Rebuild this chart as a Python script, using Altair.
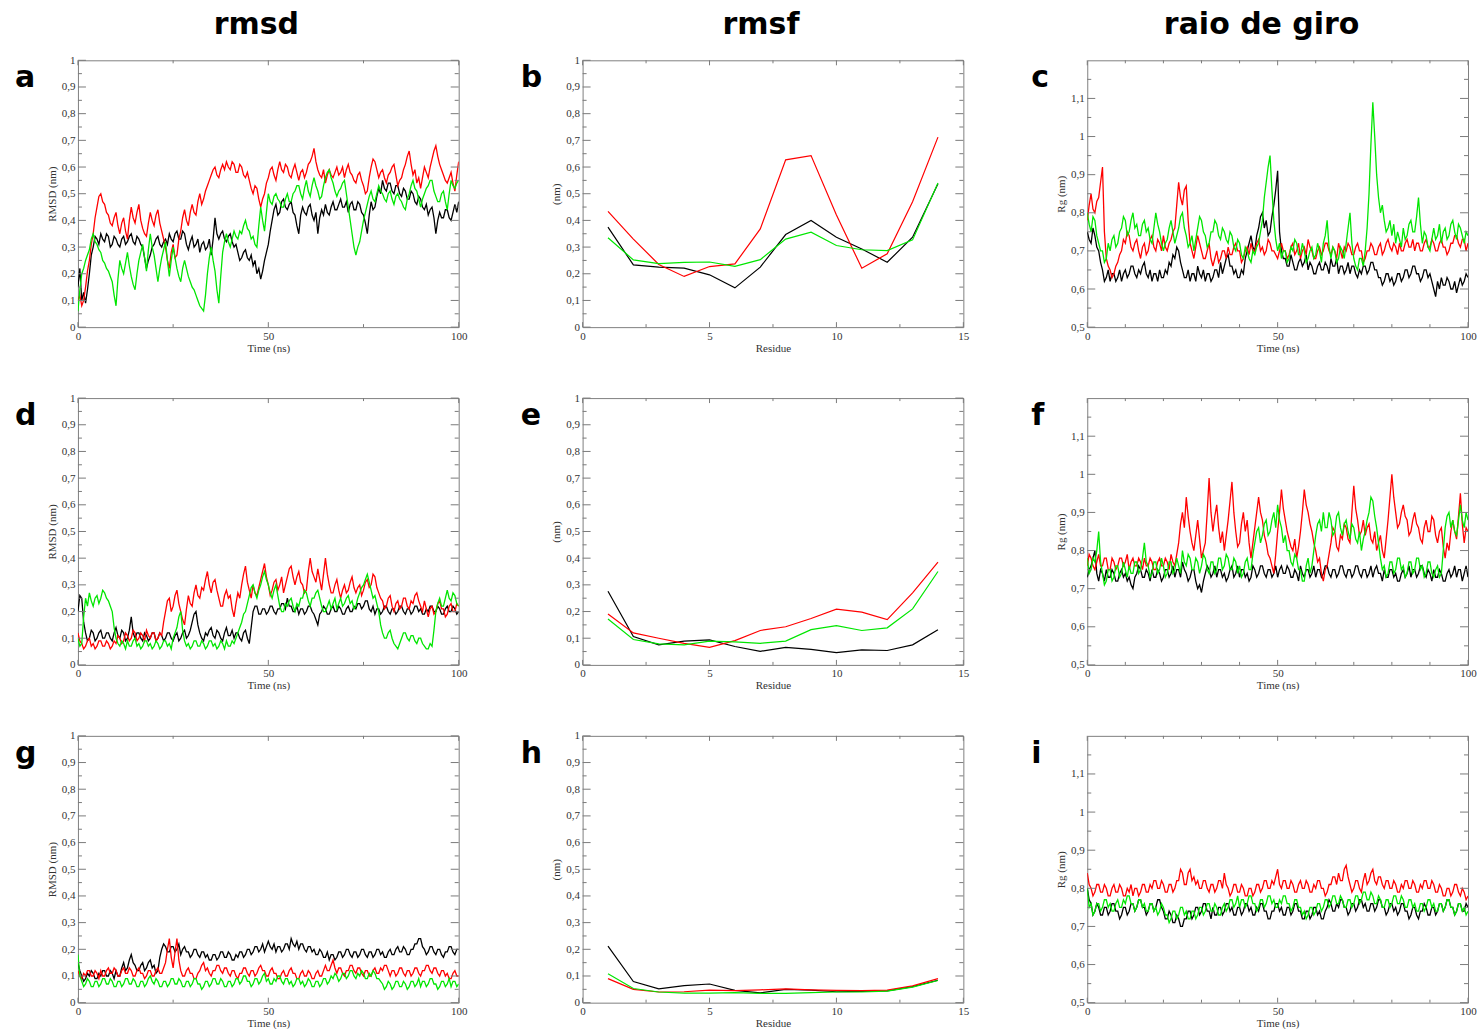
import altair as alt
import pandas as pd

# ---------------- data ----------------
TIME_NS = [i * 0.5 for i in range(201)]   # 0 .. 100 ns, frames every 0.5 ns
RESIDUES = list(range(1, 15))

COLUMN_TITLES = ["rmsd", "rmsf", "raio de giro"]
PANEL_LETTERS = [["a", "b", "c"], ["d", "e", "f"], ["g", "h", "i"]]

# tick values
TIME_LABELS = [0, 50, 100]
TIME_MINOR_RMSD = [25, 75]
TIME_MINOR_RG = [10, 20, 30, 40, 60, 70, 80, 90]
RES_LABELS = [0, 5, 10, 15]
RES_MINOR = [2.5, 7.5, 12.5]
NM_LABELS = [0, 0.1, 0.2, 0.3, 0.4, 0.5, 0.6, 0.7, 0.8, 0.9, 1.0]
NM_MINOR = [0.05, 0.15, 0.25, 0.35, 0.45, 0.55, 0.65, 0.75, 0.85, 0.95]
RG_LABELS = [0.5, 0.6, 0.7, 0.8, 0.9, 1.0, 1.1]
RG_MINOR = [0.55, 0.65, 0.75, 0.85, 0.95, 1.05, 1.15]

# panel a - RMSD (nm)
A_BLACK = [0.15,0.22, 0.10,0.13, 0.09,0.14, 0.20,0.27, 0.30,0.34, 0.33,0.31, 0.35,0.33, 0.32,0.35, 0.34,0.30, 0.31,0.34,
           0.33,0.31, 0.30,0.33, 0.34,0.31, 0.32,0.34, 0.35,0.32, 0.31,0.34, 0.33,0.31, 0.30,0.26, 0.22,0.25, 0.27,0.30,
           0.31,0.33, 0.34,0.31, 0.30,0.32, 0.33,0.31, 0.35,0.33, 0.32,0.35, 0.36,0.33, 0.33,0.36, 0.35,0.31, 0.29,0.32,
           0.34,0.30, 0.31,0.33, 0.28,0.31, 0.32,0.29, 0.30,0.33, 0.27,0.33, 0.41,0.35, 0.33,0.35, 0.36,0.33, 0.32,0.34,
           0.35,0.32, 0.30,0.31, 0.28,0.25, 0.26,0.28, 0.29,0.26, 0.25,0.27, 0.23,0.25, 0.20,0.22, 0.18,0.21, 0.25,0.28,
           0.31,0.36, 0.40,0.44, 0.46,0.42, 0.43,0.47, 0.48,0.45, 0.44,0.46, 0.47,0.43, 0.42,0.38, 0.35,0.42, 0.45,0.43,
           0.42,0.45, 0.46,0.42, 0.40,0.43, 0.35,0.41, 0.44,0.42, 0.46,0.43, 0.42,0.45, 0.47,0.44, 0.44,0.46, 0.48,0.45,
           0.45,0.47, 0.43,0.46, 0.47,0.44, 0.44,0.47, 0.46,0.43, 0.42,0.39, 0.35,0.42, 0.47,0.44, 0.45,0.49, 0.52,0.50,
           0.55,0.52, 0.51,0.54, 0.54,0.51, 0.50,0.53, 0.53,0.50, 0.49,0.52, 0.51,0.48, 0.48,0.51, 0.50,0.47, 0.46,0.49,
           0.48,0.45, 0.44,0.46, 0.42,0.44, 0.45,0.41, 0.35,0.40, 0.43,0.41, 0.41,0.44, 0.44,0.41, 0.40,0.43, 0.46,0.43,
           0.47]
A_RED = [0.10,0.12, 0.08,0.10, 0.15,0.21, 0.25,0.31, 0.35,0.41, 0.45,0.49, 0.50,0.47, 0.46,0.43, 0.42,0.39, 0.38,0.41,
         0.43,0.38, 0.35,0.39, 0.41,0.36, 0.33,0.40, 0.45,0.41, 0.39,0.43, 0.46,0.40, 0.37,0.35, 0.34,0.39, 0.43,0.40,
         0.38,0.42, 0.44,0.39, 0.36,0.33, 0.30,0.25, 0.22,0.28, 0.31,0.26, 0.27,0.33, 0.36,0.41, 0.44,0.40, 0.38,0.43,
         0.46,0.43, 0.42,0.47, 0.50,0.46, 0.48,0.51, 0.53,0.55, 0.57,0.59, 0.60,0.57, 0.56,0.59, 0.61,0.59, 0.62,0.60,
         0.59,0.62, 0.61,0.58, 0.58,0.61, 0.60,0.57, 0.56,0.58, 0.55,0.52, 0.50,0.53, 0.52,0.48, 0.45,0.48, 0.50,0.54,
         0.56,0.59, 0.60,0.57, 0.55,0.59, 0.62,0.59, 0.58,0.61, 0.60,0.57, 0.56,0.59, 0.61,0.58, 0.55,0.58, 0.59,0.56,
         0.58,0.61, 0.62,0.64, 0.67,0.62, 0.59,0.57, 0.56,0.59, 0.54,0.57, 0.59,0.57, 0.56,0.58, 0.60,0.57, 0.58,0.60,
         0.56,0.59, 0.61,0.58, 0.57,0.55, 0.54,0.57, 0.58,0.55, 0.53,0.50, 0.51,0.56, 0.60,0.63, 0.62,0.59, 0.56,0.58,
         0.59,0.56, 0.54,0.57, 0.58,0.60, 0.61,0.57, 0.53,0.55, 0.56,0.59, 0.61,0.64, 0.66,0.61, 0.57,0.59, 0.54,0.56,
         0.52,0.56, 0.60,0.58, 0.56,0.60, 0.63,0.66, 0.68,0.64, 0.61,0.59, 0.57,0.55, 0.54,0.56, 0.58,0.54, 0.51,0.57,
         0.62]
A_GREEN = [0.06,0.14, 0.20,0.22, 0.25,0.27, 0.29,0.33, 0.35,0.32, 0.31,0.29, 0.28,0.25, 0.24,0.22, 0.21,0.19, 0.17,0.12,
           0.08,0.18, 0.25,0.22, 0.20,0.24, 0.28,0.23, 0.19,0.16, 0.14,0.20, 0.25,0.28, 0.31,0.26, 0.21,0.29, 0.35,0.30,
           0.27,0.22, 0.17,0.22, 0.26,0.29, 0.32,0.25, 0.19,0.25, 0.30,0.26, 0.22,0.19, 0.17,0.22, 0.25,0.22, 0.19,0.17,
           0.15,0.14, 0.12,0.10, 0.08,0.07, 0.06,0.12, 0.20,0.26, 0.30,0.25, 0.21,0.14, 0.09,0.19, 0.28,0.32, 0.35,0.32,
           0.30,0.33, 0.36,0.34, 0.33,0.36, 0.35,0.38, 0.40,0.37, 0.36,0.33, 0.34,0.31, 0.30,0.38, 0.45,0.40, 0.36,0.43,
           0.50,0.47, 0.46,0.49, 0.50,0.48, 0.47,0.45, 0.45,0.48, 0.50,0.47, 0.47,0.50, 0.51,0.53, 0.53,0.50, 0.48,0.52,
           0.55,0.51, 0.49,0.53, 0.56,0.53, 0.51,0.48, 0.49,0.53, 0.56,0.58, 0.59,0.56, 0.54,0.51, 0.49,0.51, 0.52,0.54,
           0.55,0.50, 0.45,0.40, 0.35,0.30, 0.27,0.30, 0.32,0.36, 0.40,0.43, 0.46,0.49, 0.51,0.48, 0.47,0.50, 0.53,0.51,
           0.50,0.48, 0.47,0.50, 0.51,0.48, 0.46,0.49, 0.50,0.48, 0.47,0.45, 0.44,0.48, 0.50,0.53, 0.55,0.52, 0.51,0.48,
           0.45,0.48, 0.50,0.52, 0.53,0.55, 0.55,0.51, 0.49,0.47, 0.47,0.50, 0.51,0.47, 0.44,0.50, 0.55,0.53, 0.52,0.54,
           0.55]

# panel b - RMSF (nm) per residue
B_BLACK = [0.375, 0.233, 0.225, 0.221, 0.196, 0.147, 0.225, 0.347, 0.400, 0.337, 0.293, 0.243, 0.337, 0.537]
B_RED = [0.434, 0.330, 0.235, 0.190, 0.227, 0.237, 0.368, 0.627, 0.643, 0.420, 0.221, 0.275, 0.470, 0.712]
B_GREEN = [0.335, 0.252, 0.238, 0.243, 0.244, 0.228, 0.253, 0.330, 0.356, 0.306, 0.290, 0.287, 0.327, 0.540]

# panel c - Rg (nm)
C_BLACK = [0.75,0.73, 0.72,0.76, 0.74,0.71, 0.70,0.67, 0.65,0.62, 0.63,0.65, 0.62,0.64, 0.64,0.62, 0.63,0.65, 0.62,0.64,
           0.65,0.63, 0.64,0.66, 0.66,0.64, 0.63,0.65, 0.64,0.66, 0.67,0.64, 0.63,0.65, 0.62,0.64, 0.64,0.62, 0.65,0.63,
           0.63,0.65, 0.64,0.67, 0.66,0.69, 0.68,0.71, 0.70,0.67, 0.65,0.63, 0.63,0.65, 0.62,0.64, 0.64,0.62, 0.66,0.64,
           0.63,0.65, 0.62,0.64, 0.64,0.62, 0.63,0.65, 0.65,0.63, 0.67,0.64, 0.66,0.68, 0.69,0.66, 0.66,0.64, 0.65,0.63,
           0.63,0.65, 0.64,0.68, 0.70,0.72, 0.74,0.71, 0.70,0.74, 0.76,0.79, 0.80,0.76, 0.78,0.74, 0.75,0.79, 0.82,0.86,
           0.91,0.75, 0.70,0.68, 0.68,0.66, 0.66,0.69, 0.67,0.65, 0.65,0.67, 0.68,0.66, 0.67,0.69, 0.65,0.67, 0.66,0.64,
           0.64,0.66, 0.67,0.65, 0.65,0.67, 0.66,0.64, 0.68,0.66, 0.66,0.68, 0.64,0.66, 0.66,0.64, 0.65,0.67, 0.64,0.66,
           0.66,0.64, 0.63,0.65, 0.64,0.66, 0.66,0.64, 0.65,0.67, 0.67,0.65, 0.65,0.63, 0.63,0.61, 0.62,0.64, 0.64,0.62,
           0.63,0.61, 0.62,0.64, 0.64,0.62, 0.63,0.65, 0.65,0.63, 0.64,0.66, 0.66,0.64, 0.64,0.62, 0.63,0.65, 0.65,0.63,
           0.64,0.62, 0.60,0.58, 0.62,0.60, 0.63,0.61, 0.61,0.63, 0.62,0.60, 0.60,0.62, 0.59,0.61, 0.63,0.61, 0.62,0.64,
           0.63]
C_RED = [0.78,0.82, 0.85,0.81, 0.80,0.83, 0.84,0.88, 0.92,0.75, 0.68,0.66, 0.65,0.63, 0.64,0.66, 0.67,0.69, 0.70,0.73,
         0.72,0.75, 0.74,0.71, 0.70,0.72, 0.73,0.70, 0.68,0.71, 0.72,0.69, 0.70,0.73, 0.74,0.71, 0.70,0.73, 0.72,0.70,
         0.74,0.71, 0.70,0.72, 0.73,0.75, 0.76,0.82, 0.88,0.84, 0.82,0.86, 0.87,0.78, 0.72,0.70, 0.68,0.71, 0.74,0.72,
         0.70,0.68, 0.68,0.70, 0.72,0.68, 0.66,0.68, 0.70,0.67, 0.68,0.70, 0.70,0.68, 0.71,0.69, 0.69,0.71, 0.72,0.70,
         0.70,0.67, 0.68,0.70, 0.71,0.69, 0.72,0.70, 0.70,0.72, 0.73,0.70, 0.71,0.69, 0.70,0.73, 0.72,0.70, 0.70,0.69,
         0.68,0.70, 0.72,0.70, 0.70,0.68, 0.69,0.71, 0.72,0.69, 0.70,0.72, 0.68,0.70, 0.71,0.69, 0.73,0.71, 0.70,0.68,
         0.68,0.70, 0.71,0.69, 0.70,0.72, 0.72,0.70, 0.69,0.71, 0.70,0.68, 0.72,0.70, 0.68,0.71, 0.70,0.72, 0.71,0.69,
         0.69,0.71, 0.72,0.70, 0.70,0.67, 0.68,0.70, 0.70,0.72, 0.71,0.69, 0.69,0.71, 0.72,0.69, 0.70,0.72, 0.73,0.71,
         0.70,0.72, 0.71,0.69, 0.72,0.70, 0.70,0.72, 0.73,0.71, 0.71,0.73, 0.70,0.72, 0.72,0.70, 0.70,0.72, 0.73,0.71,
         0.71,0.73, 0.72,0.70, 0.70,0.72, 0.73,0.71, 0.71,0.69, 0.70,0.72, 0.72,0.74, 0.74,0.72, 0.71,0.73, 0.73,0.70,
         0.72]
C_GREEN = [0.80,0.77, 0.75,0.79, 0.78,0.74, 0.72,0.70, 0.70,0.67, 0.68,0.72, 0.70,0.73, 0.74,0.71, 0.72,0.75, 0.76,0.79,
           0.78,0.74, 0.75,0.78, 0.80,0.76, 0.77,0.74, 0.74,0.77, 0.78,0.75, 0.76,0.73, 0.72,0.76, 0.80,0.77, 0.75,0.72,
           0.70,0.72, 0.73,0.76, 0.78,0.75, 0.72,0.74, 0.76,0.79, 0.80,0.76, 0.74,0.71, 0.72,0.74, 0.70,0.73, 0.76,0.79,
           0.78,0.75, 0.74,0.71, 0.72,0.75, 0.75,0.78, 0.77,0.74, 0.73,0.76, 0.75,0.73, 0.72,0.75, 0.74,0.71, 0.70,0.73,
           0.72,0.69, 0.68,0.71, 0.70,0.68, 0.67,0.70, 0.69,0.71, 0.72,0.75, 0.78,0.84, 0.88,0.92, 0.95,0.86, 0.78,0.73,
           0.70,0.72, 0.68,0.70, 0.70,0.67, 0.68,0.71, 0.70,0.73, 0.72,0.69, 0.69,0.72, 0.70,0.67, 0.68,0.70, 0.71,0.68,
           0.69,0.72, 0.70,0.67, 0.72,0.74, 0.78,0.71, 0.68,0.71, 0.70,0.67, 0.68,0.71, 0.70,0.68, 0.72,0.76, 0.80,0.72,
           0.68,0.66, 0.65,0.68, 0.68,0.66, 0.70,0.76, 0.85,0.98, 1.09,1.00, 0.90,0.84, 0.80,0.82, 0.78,0.75, 0.76,0.78,
           0.74,0.77, 0.72,0.75, 0.73,0.71, 0.76,0.73, 0.74,0.77, 0.78,0.75, 0.75,0.79, 0.84,0.77, 0.72,0.75, 0.74,0.71,
           0.70,0.73, 0.76,0.73, 0.74,0.77, 0.72,0.75, 0.76,0.73, 0.74,0.77, 0.78,0.75, 0.73,0.77, 0.76,0.74, 0.72,0.75,
           0.74]

# panel d - RMSD (nm)
D_BLACK = [0.20,0.26, 0.25,0.16, 0.12,0.09, 0.10,0.13, 0.12,0.09, 0.10,0.12, 0.13,0.10, 0.10,0.12, 0.12,0.10, 0.09,0.12,
           0.14,0.11, 0.10,0.13, 0.12,0.09, 0.10,0.13, 0.18,0.12, 0.10,0.12, 0.12,0.10, 0.09,0.12, 0.11,0.09, 0.10,0.12,
           0.12,0.09, 0.10,0.12, 0.11,0.09, 0.10,0.12, 0.12,0.10, 0.09,0.11, 0.12,0.09, 0.10,0.12, 0.13,0.10, 0.11,0.13,
           0.16,0.19, 0.20,0.15, 0.12,0.10, 0.09,0.12, 0.11,0.13, 0.14,0.11, 0.10,0.13, 0.12,0.10, 0.09,0.12, 0.14,0.11,
           0.11,0.13, 0.10,0.12, 0.12,0.10, 0.09,0.12, 0.13,0.10, 0.08,0.14, 0.20,0.22, 0.22,0.19, 0.19,0.21, 0.21,0.19,
           0.20,0.22, 0.22,0.20, 0.19,0.21, 0.21,0.23, 0.23,0.21, 0.25,0.22, 0.22,0.20, 0.20,0.22, 0.19,0.21, 0.21,0.19,
           0.20,0.22, 0.22,0.20, 0.19,0.17, 0.15,0.19, 0.20,0.22, 0.21,0.19, 0.19,0.21, 0.22,0.20, 0.20,0.22, 0.21,0.19,
           0.19,0.21, 0.22,0.20, 0.20,0.22, 0.21,0.23, 0.23,0.21, 0.22,0.24, 0.24,0.21, 0.20,0.22, 0.19,0.21, 0.21,0.19,
           0.20,0.22, 0.22,0.20, 0.19,0.21, 0.21,0.19, 0.20,0.22, 0.22,0.20, 0.19,0.21, 0.21,0.19, 0.20,0.22, 0.22,0.20,
           0.21,0.19, 0.19,0.21, 0.20,0.22, 0.22,0.20, 0.20,0.22, 0.21,0.19, 0.19,0.21, 0.22,0.20, 0.20,0.22, 0.21,0.19,
           0.20]
D_RED = [0.12,0.09, 0.08,0.06, 0.07,0.09, 0.10,0.07, 0.08,0.06, 0.07,0.09, 0.09,0.07, 0.07,0.09, 0.08,0.06, 0.07,0.09,
         0.08,0.11, 0.10,0.08, 0.09,0.12, 0.11,0.09, 0.10,0.13, 0.12,0.09, 0.10,0.12, 0.11,0.09, 0.13,0.11, 0.10,0.12,
         0.12,0.09, 0.10,0.12, 0.11,0.16, 0.20,0.24, 0.25,0.20, 0.22,0.26, 0.28,0.23, 0.20,0.17, 0.15,0.21, 0.26,0.23,
         0.22,0.27, 0.30,0.26, 0.25,0.29, 0.28,0.32, 0.35,0.30, 0.27,0.31, 0.32,0.28, 0.25,0.22, 0.22,0.26, 0.28,0.25,
         0.26,0.21, 0.18,0.23, 0.27,0.25, 0.30,0.34, 0.37,0.31, 0.28,0.25, 0.30,0.27, 0.26,0.29, 0.32,0.35, 0.38,0.33,
         0.30,0.26, 0.28,0.31, 0.32,0.28, 0.30,0.33, 0.27,0.30, 0.33,0.36, 0.37,0.33, 0.30,0.33, 0.35,0.31, 0.30,0.27,
         0.28,0.35, 0.40,0.35, 0.33,0.31, 0.36,0.32, 0.28,0.34, 0.40,0.34, 0.30,0.27, 0.27,0.30, 0.32,0.28, 0.25,0.28,
         0.30,0.27, 0.28,0.31, 0.33,0.29, 0.27,0.29, 0.30,0.26, 0.28,0.31, 0.32,0.29, 0.30,0.34, 0.33,0.29, 0.27,0.25,
         0.24,0.21, 0.22,0.25, 0.26,0.22, 0.20,0.23, 0.24,0.21, 0.22,0.25, 0.25,0.22, 0.21,0.24, 0.23,0.26, 0.27,0.24,
         0.22,0.20, 0.24,0.21, 0.18,0.21, 0.22,0.19, 0.20,0.23, 0.24,0.21, 0.21,0.18, 0.19,0.22, 0.23,0.20, 0.20,0.23,
         0.22]
D_GREEN = [0.10,0.07, 0.08,0.18, 0.25,0.22, 0.27,0.24, 0.22,0.25, 0.26,0.23, 0.25,0.28, 0.27,0.25, 0.24,0.22, 0.20,0.14,
           0.10,0.08, 0.07,0.09, 0.08,0.06, 0.09,0.07, 0.07,0.09, 0.10,0.07, 0.08,0.06, 0.07,0.09, 0.09,0.07, 0.08,0.06,
           0.07,0.09, 0.08,0.06, 0.07,0.09, 0.09,0.07, 0.08,0.06, 0.10,0.12, 0.14,0.18, 0.20,0.13, 0.09,0.07, 0.08,0.06,
           0.07,0.09, 0.09,0.07, 0.07,0.09, 0.08,0.06, 0.07,0.09, 0.09,0.07, 0.08,0.06, 0.07,0.09, 0.08,0.06, 0.09,0.07,
           0.07,0.09, 0.08,0.10, 0.12,0.14, 0.16,0.19, 0.20,0.23, 0.26,0.29, 0.30,0.27, 0.25,0.28, 0.30,0.33, 0.35,0.32,
           0.30,0.27, 0.25,0.28, 0.30,0.26, 0.22,0.20, 0.20,0.23, 0.22,0.24, 0.25,0.22, 0.20,0.23, 0.22,0.25, 0.25,0.28,
           0.27,0.24, 0.22,0.25, 0.25,0.27, 0.28,0.25, 0.22,0.20, 0.20,0.22, 0.24,0.21, 0.23,0.25, 0.21,0.23, 0.25,0.22,
           0.23,0.25, 0.26,0.23, 0.24,0.21, 0.22,0.25, 0.27,0.29, 0.30,0.32, 0.34,0.31, 0.28,0.25, 0.26,0.23, 0.20,0.15,
           0.12,0.10, 0.10,0.12, 0.13,0.10, 0.08,0.07, 0.06,0.08, 0.10,0.12, 0.12,0.10, 0.09,0.11, 0.11,0.09, 0.08,0.10,
           0.10,0.08, 0.07,0.06, 0.06,0.08, 0.07,0.13, 0.20,0.23, 0.25,0.22, 0.22,0.25, 0.28,0.25, 0.24,0.27, 0.26,0.23,
           0.22]

# panel e - RMSF (nm)
E_BLACK = [0.276, 0.106, 0.075, 0.089, 0.094, 0.069, 0.051, 0.066, 0.058, 0.046, 0.056, 0.054, 0.075, 0.132]
E_RED = [0.191, 0.120, 0.100, 0.081, 0.066, 0.091, 0.129, 0.143, 0.174, 0.209, 0.198, 0.170, 0.270, 0.385]
E_GREEN = [0.172, 0.095, 0.079, 0.075, 0.089, 0.086, 0.081, 0.089, 0.132, 0.147, 0.129, 0.139, 0.210, 0.350]

# panel f - Rg (nm)
F_BLACK = [0.73,0.75, 0.76,0.78, 0.80,0.74, 0.72,0.75, 0.74,0.72, 0.75,0.73, 0.73,0.75, 0.74,0.72, 0.72,0.74, 0.75,0.73,
           0.74,0.72, 0.73,0.71, 0.70,0.73, 0.74,0.76, 0.75,0.73, 0.73,0.75, 0.74,0.72, 0.75,0.73, 0.73,0.75, 0.74,0.72,
           0.73,0.75, 0.75,0.73, 0.74,0.76, 0.73,0.75, 0.75,0.73, 0.77,0.75, 0.74,0.72, 0.73,0.75, 0.75,0.72, 0.70,0.71,
           0.69,0.72, 0.74,0.76, 0.75,0.73, 0.74,0.76, 0.73,0.75, 0.75,0.73, 0.74,0.72, 0.73,0.75, 0.76,0.73, 0.74,0.76,
           0.73,0.75, 0.75,0.73, 0.74,0.72, 0.73,0.76, 0.75,0.73, 0.74,0.76, 0.76,0.74, 0.73,0.75, 0.75,0.73, 0.74,0.76,
           0.73,0.75, 0.76,0.74, 0.74,0.76, 0.75,0.73, 0.73,0.75, 0.74,0.72, 0.76,0.74, 0.73,0.75, 0.75,0.73, 0.74,0.76,
           0.73,0.75, 0.75,0.73, 0.74,0.76, 0.76,0.74, 0.73,0.75, 0.75,0.73, 0.74,0.76, 0.76,0.74, 0.73,0.75, 0.75,0.73,
           0.74,0.76, 0.76,0.74, 0.73,0.75, 0.75,0.73, 0.74,0.76, 0.73,0.75, 0.76,0.74, 0.74,0.72, 0.75,0.73, 0.73,0.75,
           0.75,0.73, 0.74,0.72, 0.72,0.74, 0.75,0.73, 0.74,0.76, 0.73,0.75, 0.75,0.73, 0.74,0.76, 0.76,0.74, 0.73,0.75,
           0.74,0.72, 0.75,0.73, 0.73,0.75, 0.74,0.72, 0.72,0.74, 0.75,0.73, 0.74,0.76, 0.73,0.75, 0.75,0.72, 0.74,0.76,
           0.73]
F_RED = [0.76,0.79, 0.78,0.76, 0.75,0.77, 0.79,0.76, 0.76,0.78, 0.78,0.75, 0.75,0.78, 0.77,0.75, 0.76,0.78, 0.78,0.76,
         0.77,0.79, 0.75,0.77, 0.78,0.76, 0.76,0.78, 0.77,0.75, 0.78,0.76, 0.76,0.78, 0.77,0.75, 0.75,0.77, 0.78,0.76,
         0.76,0.78, 0.77,0.75, 0.79,0.77, 0.76,0.79, 0.82,0.87, 0.90,0.86, 0.94,0.89, 0.85,0.82, 0.80,0.84, 0.88,0.83,
         0.78,0.80, 0.82,0.90, 0.99,0.90, 0.85,0.89, 0.92,0.86, 0.82,0.85, 0.80,0.84, 0.88,0.93, 0.98,0.90, 0.85,0.81,
         0.82,0.87, 0.90,0.85, 0.88,0.82, 0.78,0.82, 0.86,0.90, 0.94,0.90, 0.88,0.84, 0.82,0.79, 0.78,0.76, 0.74,0.79,
         0.85,0.90, 0.96,0.91, 0.88,0.85, 0.83,0.81, 0.80,0.83, 0.78,0.81, 0.85,0.90, 0.96,0.92, 0.90,0.87, 0.85,0.82,
         0.80,0.77, 0.78,0.74, 0.72,0.75, 0.76,0.79, 0.82,0.86, 0.85,0.81, 0.80,0.84, 0.83,0.87, 0.86,0.83, 0.82,0.90,
         0.97,0.91, 0.88,0.84, 0.85,0.88, 0.84,0.86, 0.87,0.83, 0.82,0.85, 0.80,0.82, 0.84,0.80, 0.78,0.83, 0.88,0.94,
         1.00,0.94, 0.90,0.86, 0.87,0.90, 0.92,0.89, 0.88,0.84, 0.85,0.88, 0.90,0.87, 0.86,0.83, 0.82,0.86, 0.88,0.85,
         0.85,0.89, 0.88,0.84, 0.82,0.85, 0.86,0.81, 0.78,0.82, 0.80,0.85, 0.88,0.85, 0.83,0.89, 0.95,0.87, 0.82,0.86,
         0.85]
F_GREEN = [0.78,0.74, 0.75,0.78, 0.77,0.80, 0.85,0.77, 0.74,0.71, 0.72,0.75, 0.75,0.72, 0.73,0.76, 0.76,0.73, 0.74,0.77,
           0.75,0.73, 0.76,0.74, 0.74,0.77, 0.77,0.74, 0.75,0.78, 0.82,0.77, 0.76,0.73, 0.74,0.77, 0.77,0.74, 0.75,0.78,
           0.76,0.73, 0.74,0.77, 0.77,0.74, 0.75,0.78, 0.76,0.74, 0.80,0.77, 0.76,0.79, 0.78,0.75, 0.75,0.78, 0.77,0.74,
           0.76,0.79, 0.78,0.75, 0.74,0.77, 0.77,0.74, 0.75,0.78, 0.78,0.75, 0.76,0.79, 0.78,0.75, 0.75,0.78, 0.77,0.74,
           0.76,0.73, 0.74,0.77, 0.78,0.75, 0.75,0.79, 0.82,0.85, 0.86,0.82, 0.84,0.87, 0.88,0.84, 0.85,0.88, 0.90,0.86,
           0.92,0.88, 0.86,0.82, 0.84,0.80, 0.80,0.77, 0.76,0.79, 0.78,0.75, 0.75,0.72, 0.72,0.76, 0.78,0.74, 0.76,0.80,
           0.84,0.87, 0.88,0.85, 0.90,0.86, 0.86,0.90, 0.88,0.84, 0.85,0.89, 0.90,0.86, 0.84,0.87, 0.88,0.85, 0.83,0.87,
           0.86,0.83, 0.82,0.85, 0.80,0.83, 0.85,0.88, 0.90,0.94, 0.93,0.89, 0.86,0.82, 0.78,0.75, 0.76,0.73, 0.74,0.77,
           0.77,0.74, 0.75,0.78, 0.78,0.75, 0.76,0.73, 0.74,0.77, 0.77,0.74, 0.75,0.78, 0.78,0.75, 0.76,0.73, 0.74,0.77,
           0.77,0.74, 0.73,0.75, 0.76,0.73, 0.74,0.80, 0.86,0.89, 0.90,0.86, 0.88,0.85, 0.84,0.88, 0.92,0.88, 0.86,0.90,
           0.88]

# panel g - RMSD (nm)
G_BLACK = [0.15,0.12, 0.10,0.08, 0.09,0.11, 0.10,0.12, 0.11,0.09, 0.09,0.11, 0.10,0.12, 0.12,0.10, 0.10,0.12, 0.11,0.09,
           0.12,0.10, 0.10,0.13, 0.15,0.12, 0.13,0.16, 0.18,0.15, 0.14,0.12, 0.12,0.14, 0.15,0.12, 0.13,0.15, 0.16,0.13,
           0.14,0.11, 0.12,0.17, 0.20,0.22, 0.21,0.19, 0.19,0.21, 0.21,0.19, 0.20,0.22, 0.18,0.20, 0.21,0.19, 0.19,0.17,
           0.18,0.20, 0.20,0.18, 0.17,0.19, 0.19,0.17, 0.18,0.16, 0.16,0.18, 0.18,0.16, 0.17,0.19, 0.19,0.17, 0.17,0.19,
           0.18,0.16, 0.16,0.18, 0.17,0.19, 0.19,0.17, 0.18,0.20, 0.20,0.18, 0.19,0.21, 0.21,0.19, 0.20,0.22, 0.19,0.21,
           0.23,0.21, 0.20,0.22, 0.19,0.21, 0.21,0.19, 0.20,0.22, 0.22,0.20, 0.24,0.22, 0.21,0.23, 0.20,0.22, 0.22,0.20,
           0.19,0.21, 0.21,0.19, 0.20,0.18, 0.18,0.20, 0.19,0.17, 0.17,0.19, 0.16,0.18, 0.18,0.16, 0.17,0.19, 0.19,0.17,
           0.18,0.20, 0.20,0.18, 0.17,0.19, 0.19,0.17, 0.18,0.20, 0.20,0.18, 0.17,0.19, 0.19,0.17, 0.18,0.20, 0.20,0.18,
           0.19,0.17, 0.17,0.19, 0.20,0.18, 0.18,0.20, 0.21,0.19, 0.19,0.21, 0.20,0.18, 0.18,0.20, 0.20,0.22, 0.22,0.24,
           0.24,0.21, 0.20,0.18, 0.19,0.21, 0.21,0.19, 0.18,0.20, 0.20,0.18, 0.17,0.19, 0.19,0.21, 0.21,0.19, 0.18,0.20,
           0.20]
G_RED = [0.12,0.10, 0.09,0.11, 0.10,0.12, 0.12,0.10, 0.10,0.12, 0.11,0.09, 0.12,0.10, 0.10,0.12, 0.13,0.11, 0.11,0.13,
         0.12,0.10, 0.10,0.12, 0.13,0.11, 0.11,0.13, 0.12,0.10, 0.10,0.12, 0.13,0.11, 0.11,0.09, 0.10,0.12, 0.12,0.10,
         0.10,0.12, 0.13,0.11, 0.11,0.13, 0.15,0.20, 0.24,0.17, 0.13,0.19, 0.24,0.16, 0.12,0.10, 0.10,0.12, 0.13,0.11,
         0.11,0.09, 0.09,0.11, 0.12,0.14, 0.15,0.12, 0.13,0.11, 0.10,0.12, 0.12,0.14, 0.14,0.12, 0.11,0.13, 0.13,0.11,
         0.10,0.12, 0.12,0.10, 0.09,0.11, 0.11,0.13, 0.13,0.11, 0.10,0.12, 0.12,0.10, 0.11,0.13, 0.14,0.12, 0.12,0.10,
         0.10,0.12, 0.13,0.11, 0.11,0.09, 0.09,0.11, 0.12,0.10, 0.10,0.12, 0.13,0.11, 0.11,0.09, 0.09,0.11, 0.12,0.10,
         0.10,0.12, 0.11,0.09, 0.09,0.11, 0.12,0.10, 0.10,0.12, 0.14,0.12, 0.12,0.14, 0.16,0.13, 0.11,0.13, 0.13,0.11,
         0.10,0.12, 0.12,0.14, 0.14,0.12, 0.11,0.13, 0.13,0.11, 0.10,0.12, 0.12,0.10, 0.10,0.12, 0.13,0.11, 0.11,0.13,
         0.12,0.14, 0.14,0.12, 0.10,0.12, 0.12,0.10, 0.11,0.13, 0.13,0.11, 0.10,0.12, 0.12,0.10, 0.11,0.13, 0.13,0.11,
         0.10,0.12, 0.12,0.14, 0.14,0.12, 0.11,0.13, 0.13,0.11, 0.10,0.12, 0.12,0.10, 0.11,0.09, 0.09,0.11, 0.12,0.10,
         0.10]
G_GREEN = [0.18,0.10, 0.08,0.06, 0.07,0.09, 0.08,0.06, 0.06,0.08, 0.08,0.06, 0.07,0.09, 0.09,0.07, 0.07,0.09, 0.08,0.06,
           0.06,0.08, 0.08,0.06, 0.07,0.09, 0.09,0.07, 0.07,0.09, 0.08,0.06, 0.06,0.08, 0.08,0.06, 0.07,0.09, 0.10,0.08,
           0.07,0.09, 0.08,0.06, 0.06,0.08, 0.08,0.06, 0.07,0.09, 0.09,0.07, 0.07,0.09, 0.08,0.06, 0.06,0.08, 0.08,0.06,
           0.07,0.09, 0.09,0.07, 0.07,0.05, 0.06,0.08, 0.08,0.06, 0.07,0.09, 0.09,0.07, 0.07,0.09, 0.08,0.06, 0.06,0.08,
           0.08,0.06, 0.07,0.09, 0.09,0.07, 0.08,0.10, 0.10,0.08, 0.08,0.06, 0.07,0.09, 0.09,0.07, 0.08,0.10, 0.11,0.08,
           0.09,0.07, 0.07,0.09, 0.08,0.10, 0.10,0.08, 0.07,0.09, 0.09,0.07, 0.08,0.06, 0.07,0.09, 0.09,0.07, 0.08,0.06,
           0.07,0.09, 0.08,0.06, 0.06,0.08, 0.08,0.06, 0.07,0.09, 0.09,0.07, 0.08,0.10, 0.09,0.11, 0.10,0.08, 0.09,0.11,
           0.11,0.09, 0.10,0.12, 0.12,0.10, 0.09,0.11, 0.10,0.12, 0.11,0.09, 0.09,0.11, 0.10,0.12, 0.11,0.09, 0.09,0.08,
           0.07,0.05, 0.06,0.08, 0.07,0.05, 0.06,0.08, 0.08,0.06, 0.06,0.08, 0.07,0.05, 0.06,0.08, 0.08,0.06, 0.07,0.09,
           0.06,0.08, 0.08,0.06, 0.07,0.09, 0.09,0.07, 0.07,0.05, 0.06,0.08, 0.08,0.06, 0.07,0.09, 0.06,0.08, 0.08,0.06,
           0.07]

# panel h - RMSF (nm)
H_BLACK = [0.212, 0.079, 0.052, 0.064, 0.070, 0.046, 0.037, 0.050, 0.047, 0.041, 0.042, 0.044, 0.060, 0.084]
H_RED = [0.090, 0.050, 0.040, 0.041, 0.047, 0.045, 0.048, 0.052, 0.048, 0.046, 0.045, 0.047, 0.063, 0.090]
H_GREEN = [0.108, 0.053, 0.040, 0.036, 0.036, 0.038, 0.035, 0.035, 0.038, 0.040, 0.040, 0.043, 0.058, 0.083]

# panel i - Rg (nm)
I_BLACK = [0.80,0.77, 0.76,0.73, 0.74,0.76, 0.75,0.73, 0.73,0.75, 0.75,0.73, 0.74,0.76, 0.76,0.74, 0.74,0.72, 0.73,0.75,
           0.75,0.73, 0.74,0.76, 0.76,0.74, 0.75,0.77, 0.77,0.75, 0.75,0.73, 0.74,0.76, 0.76,0.74, 0.75,0.77, 0.77,0.75,
           0.74,0.72, 0.72,0.74, 0.73,0.71, 0.71,0.73, 0.72,0.70, 0.70,0.72, 0.72,0.74, 0.74,0.72, 0.73,0.75, 0.75,0.73,
           0.74,0.76, 0.76,0.74, 0.74,0.72, 0.75,0.73, 0.73,0.75, 0.75,0.73, 0.74,0.76, 0.76,0.74, 0.75,0.73, 0.73,0.75,
           0.75,0.73, 0.74,0.76, 0.76,0.74, 0.75,0.73, 0.73,0.75, 0.74,0.76, 0.76,0.74, 0.74,0.72, 0.72,0.74, 0.74,0.76,
           0.76,0.74, 0.75,0.73, 0.73,0.75, 0.75,0.73, 0.74,0.76, 0.76,0.74, 0.74,0.72, 0.72,0.74, 0.74,0.72, 0.73,0.75,
           0.75,0.73, 0.74,0.72, 0.72,0.74, 0.75,0.77, 0.76,0.74, 0.74,0.76, 0.75,0.77, 0.77,0.75, 0.75,0.73, 0.74,0.76,
           0.76,0.74, 0.75,0.77, 0.77,0.75, 0.76,0.74, 0.74,0.76, 0.76,0.74, 0.75,0.77, 0.77,0.75, 0.75,0.73, 0.74,0.76,
           0.76,0.74, 0.75,0.73, 0.74,0.76, 0.76,0.74, 0.74,0.72, 0.73,0.75, 0.75,0.73, 0.72,0.74, 0.74,0.76, 0.75,0.73,
           0.73,0.75, 0.75,0.73, 0.74,0.76, 0.76,0.74, 0.75,0.77, 0.77,0.75, 0.75,0.73, 0.74,0.76, 0.76,0.74, 0.74,0.76,
           0.75]
I_RED = [0.84,0.81, 0.80,0.78, 0.79,0.81, 0.81,0.79, 0.79,0.81, 0.80,0.78, 0.78,0.80, 0.81,0.79, 0.79,0.81, 0.80,0.78,
         0.78,0.80, 0.79,0.81, 0.78,0.80, 0.80,0.78, 0.79,0.81, 0.81,0.79, 0.79,0.81, 0.80,0.82, 0.82,0.80, 0.80,0.82,
         0.81,0.79, 0.79,0.81, 0.81,0.79, 0.80,0.82, 0.82,0.85, 0.84,0.81, 0.81,0.84, 0.85,0.82, 0.83,0.81, 0.82,0.80,
         0.80,0.82, 0.82,0.80, 0.79,0.81, 0.81,0.79, 0.80,0.82, 0.82,0.80, 0.84,0.81, 0.80,0.78, 0.79,0.81, 0.81,0.79,
         0.79,0.81, 0.80,0.78, 0.78,0.80, 0.80,0.78, 0.79,0.81, 0.81,0.79, 0.80,0.82, 0.82,0.80, 0.80,0.82, 0.81,0.83,
         0.85,0.81, 0.80,0.82, 0.82,0.80, 0.80,0.82, 0.81,0.79, 0.79,0.81, 0.82,0.80, 0.80,0.82, 0.81,0.79, 0.79,0.81,
         0.80,0.82, 0.82,0.80, 0.80,0.78, 0.79,0.81, 0.81,0.83, 0.83,0.81, 0.84,0.82, 0.82,0.85, 0.86,0.83, 0.81,0.79,
         0.80,0.82, 0.82,0.80, 0.79,0.82, 0.84,0.81, 0.82,0.84, 0.85,0.82, 0.81,0.83, 0.83,0.81, 0.80,0.82, 0.82,0.80,
         0.80,0.82, 0.81,0.79, 0.79,0.81, 0.80,0.82, 0.82,0.80, 0.80,0.82, 0.81,0.79, 0.79,0.81, 0.80,0.82, 0.82,0.80,
         0.80,0.82, 0.81,0.79, 0.79,0.81, 0.80,0.78, 0.78,0.80, 0.80,0.78, 0.79,0.81, 0.81,0.79, 0.78,0.80, 0.79,0.77,
         0.78]
I_GREEN = [0.80,0.75, 0.76,0.73, 0.74,0.76, 0.76,0.74, 0.75,0.77, 0.77,0.75, 0.76,0.74, 0.74,0.76, 0.77,0.75, 0.75,0.77,
           0.76,0.78, 0.78,0.76, 0.76,0.74, 0.75,0.77, 0.77,0.75, 0.76,0.74, 0.74,0.76, 0.76,0.74, 0.75,0.73, 0.74,0.76,
           0.75,0.73, 0.73,0.71, 0.72,0.74, 0.74,0.72, 0.73,0.75, 0.75,0.73, 0.74,0.72, 0.72,0.74, 0.74,0.72, 0.73,0.75,
           0.75,0.73, 0.74,0.76, 0.76,0.74, 0.74,0.76, 0.75,0.73, 0.73,0.75, 0.76,0.74, 0.75,0.77, 0.77,0.75, 0.76,0.78,
           0.75,0.77, 0.77,0.75, 0.76,0.78, 0.78,0.76, 0.76,0.74, 0.75,0.77, 0.77,0.75, 0.76,0.78, 0.78,0.76, 0.77,0.75,
           0.75,0.77, 0.76,0.78, 0.78,0.76, 0.76,0.74, 0.75,0.77, 0.77,0.75, 0.75,0.73, 0.74,0.72, 0.73,0.75, 0.75,0.73,
           0.74,0.76, 0.76,0.74, 0.75,0.77, 0.77,0.75, 0.76,0.78, 0.78,0.76, 0.76,0.78, 0.77,0.75, 0.75,0.77, 0.77,0.75,
           0.76,0.78, 0.78,0.76, 0.77,0.79, 0.79,0.77, 0.77,0.79, 0.78,0.76, 0.76,0.78, 0.77,0.75, 0.75,0.77, 0.77,0.75,
           0.76,0.78, 0.78,0.76, 0.76,0.78, 0.77,0.75, 0.75,0.77, 0.77,0.75, 0.76,0.74, 0.74,0.76, 0.76,0.74, 0.75,0.77,
           0.77,0.75, 0.76,0.74, 0.74,0.76, 0.76,0.74, 0.75,0.77, 0.77,0.75, 0.75,0.73, 0.74,0.76, 0.76,0.74, 0.75,0.73,
           0.74]

PANEL_DATA = [
    [("rmsd", A_BLACK, A_RED, A_GREEN), ("rmsf", B_BLACK, B_RED, B_GREEN), ("rg", C_BLACK, C_RED, C_GREEN)],
    [("rmsd", D_BLACK, D_RED, D_GREEN), ("rmsf", E_BLACK, E_RED, E_GREEN), ("rg", F_BLACK, F_RED, F_GREEN)],
    [("rmsd", G_BLACK, G_RED, G_GREEN), ("rmsf", H_BLACK, H_RED, H_GREEN), ("rg", I_BLACK, I_RED, I_GREEN)],
]

# ---------------- style ----------------
W, H = 381, 267
SERIF = "Liberation Serif"
SANS_BOLD = "DejaVu Sans"
FRAME = "#808080"
TICK = "#7a7a7a"
LINE_COLORS = ["#000000", "#ff0000", "#00e600"]
LETTER_DX = [-63, -62, -56]
TITLE_DX = [-12, -12, -16]
TITLE_OFFSET = [14, 14, 20]
LABEL_EXPR = "replace(format(datum.value, '.2~f'), '.', ',')"

SPECS = {
    "rmsd": dict(xdom=[0, 100], ydom=[0, 1], xlab=TIME_LABELS, xmin=TIME_MINOR_RMSD,
                 ylab=NM_LABELS, ymin=NM_MINOR, xtitle="Time (ns)", ytitle="RMSD (nm)", xs=TIME_NS),
    "rmsf": dict(xdom=[0, 15], ydom=[0, 1], xlab=RES_LABELS, xmin=RES_MINOR,
                 ylab=NM_LABELS, ymin=NM_MINOR, xtitle="Residue", ytitle="(nm)", xs=RESIDUES),
    "rg": dict(xdom=[0, 100], ydom=[0.5, 1.2], xlab=TIME_LABELS, xmin=TIME_MINOR_RG,
               ylab=RG_LABELS, ymin=RG_MINOR, xtitle="Time (ns)", ytitle="Rg (nm)", xs=TIME_NS),
}


def panel(kind, letter, col, black, red, green, title=None):
    s = SPECS[kind]
    sx = alt.Scale(domain=s["xdom"], nice=False, zero=False)
    sy = alt.Scale(domain=s["ydom"], nice=False, zero=False)
    xa = alt.Axis(values=s["xlab"], ticks=False, domain=False, grid=False,
                  title=s["xtitle"], labelExpr=LABEL_EXPR, labelPadding=3,
                  titlePadding=1, labelFlush=False)
    ya = alt.Axis(values=s["ylab"], ticks=False, domain=False, grid=False,
                  title=s["ytitle"], labelExpr=LABEL_EXPR, labelPadding=3,
                  titlePadding=4, labelFlush=False)
    lw = 1.2 if kind == "rmsf" else 1.3
    layers = []
    for i, vals in enumerate([black, red, green]):
        n = min(len(vals), len(s["xs"]))
        df = pd.DataFrame({"x": s["xs"][:n], "y": vals[:n]})
        layers.append(
            alt.Chart(df).mark_line(color=LINE_COLORS[i], strokeWidth=lw, clip=True)
            .encode(x=alt.X("x:Q", scale=sx, axis=xa), y=alt.Y("y:Q", scale=sy, axis=ya))
        )

    # inward ticks on all four sides
    for vals, L in [(s["xlab"], 5), (s["xmin"], 3)]:
        tdf = pd.DataFrame({"x": vals})
        base = alt.Chart(tdf).mark_rule(color=TICK, strokeWidth=1)
        xe = alt.X("x:Q", scale=sx, axis=xa)
        layers.append(base.encode(x=xe, y=alt.value(H), y2=alt.value(H - L)))
        layers.append(base.encode(x=xe, y=alt.value(0), y2=alt.value(L)))
    for vals, L in [(s["ylab"], 8), (s["ymin"], 4)]:
        tdf = pd.DataFrame({"y": vals})
        base = alt.Chart(tdf).mark_rule(color=TICK, strokeWidth=1)
        ye = alt.Y("y:Q", scale=sy, axis=ya)
        layers.append(base.encode(y=ye, x=alt.value(0), x2=alt.value(L)))
        layers.append(base.encode(y=ye, x=alt.value(W), x2=alt.value(W - L)))

    ldf = pd.DataFrame({"letter": [letter]})
    layers.append(alt.Chart(ldf).mark_text(font=SANS_BOLD, fontSize=30, fontWeight="bold",
                                           align="left", baseline="alphabetic", color="black")
                  .encode(x=alt.value(LETTER_DX[col]), y=alt.value(27), text="letter:N"))
    # invisible (white) spacers keeping every panel's outer box identical
    sp = alt.Chart(ldf).mark_rule(color="white", strokeWidth=1)
    layers.append(sp.encode(x=alt.value(-66), y=alt.value(H / 2), y2=alt.value(H / 2 + 1)))
    layers.append(sp.encode(x=alt.value(W + 10), y=alt.value(H / 2), y2=alt.value(H / 2 + 1)))

    ch = alt.layer(*layers)
    props = dict(width=W, height=H)
    if title:
        props["title"] = alt.TitleParams(text=title, anchor="middle", frame="group",
                                         font=SANS_BOLD, fontSize=30, fontWeight="bold",
                                         color="black", offset=TITLE_OFFSET[col], dx=TITLE_DX[col])
    return ch.properties(**props)


rows = []
for r in range(3):
    cells = []
    for c in range(3):
        kind, b, rd, g = PANEL_DATA[r][c]
        cells.append(panel(kind, PANEL_LETTERS[r][c], c, b, rd, g,
                           title=COLUMN_TITLES[c] if r == 0 else None))
    rows.append(alt.hconcat(*cells, spacing=46))

chart = (
    alt.vconcat(*rows, spacing=37)
    .properties(padding={"left": 11, "top": 9, "right": 0, "bottom": 0}, background="white")
    .configure_view(stroke=FRAME, strokeWidth=1)
    .configure_axis(labelFont=SERIF, labelFontSize=11, labelColor="#333333",
                    titleFont=SERIF, titleFontSize=11, titleFontWeight="normal",
                    titleColor="#333333")
)

chart.save("out.html", embed_options={"renderer": "svg", "actions": False})
